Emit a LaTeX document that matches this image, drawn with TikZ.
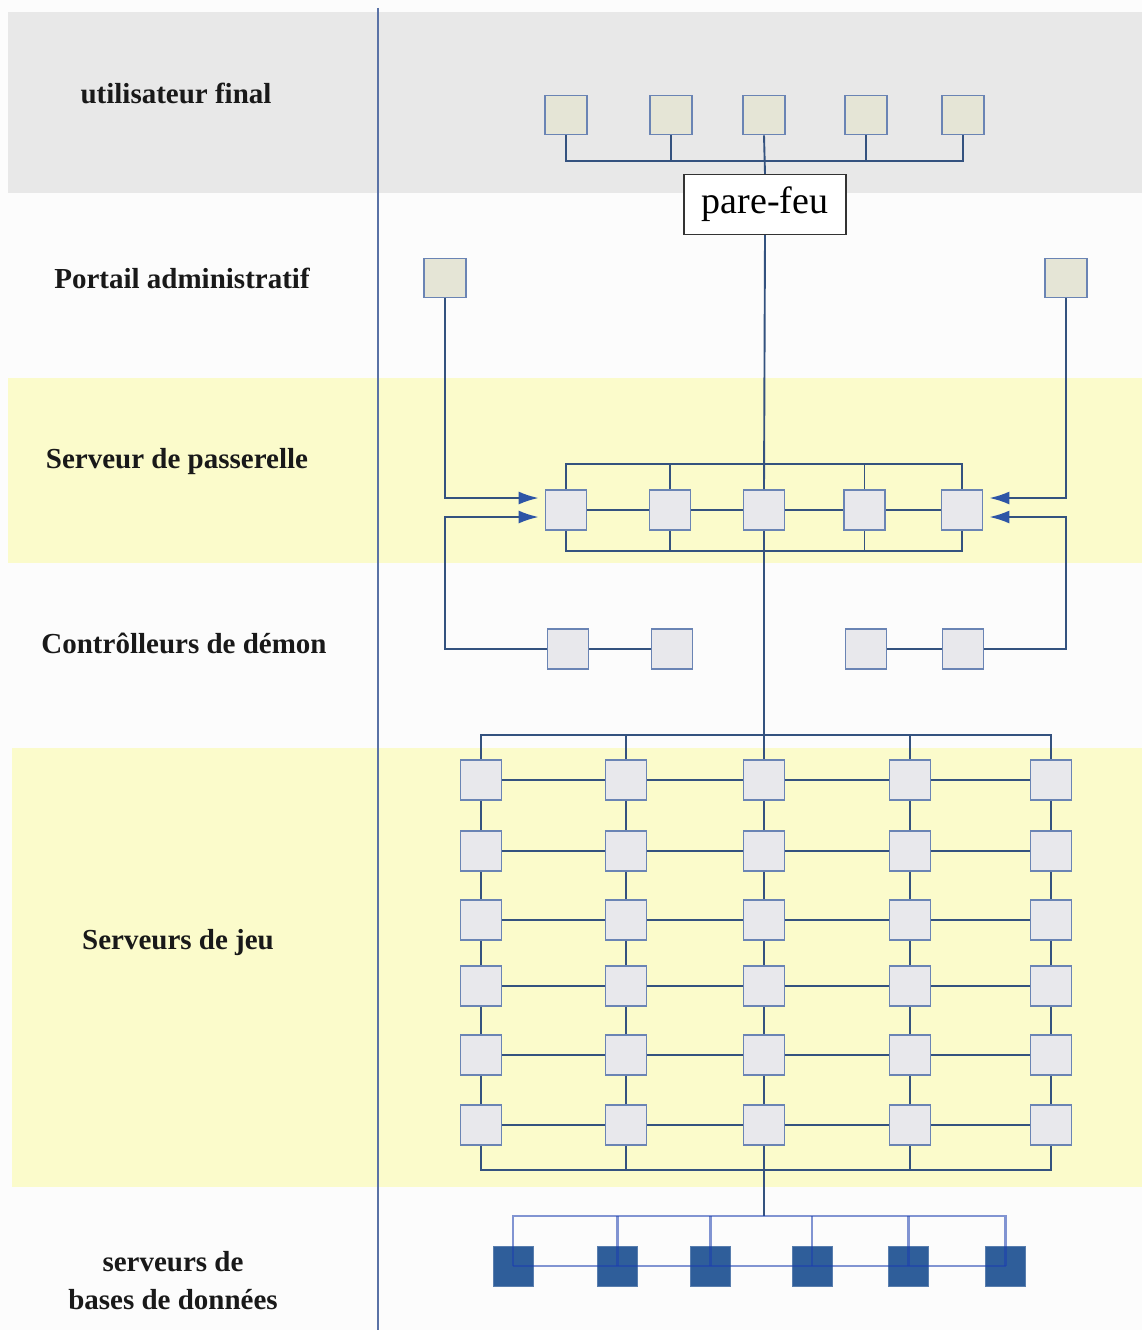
\documentclass[tikz,border=0pt]{standalone}
\usepackage{fontspec}
\setmainfont{Liberation Serif}
\usetikzlibrary{arrows.meta,calc}
\definecolor{bandgray}{HTML}{E8E8E8}
\definecolor{bandyellow}{HTML}{FBFBCB}
\definecolor{wirecol}{HTML}{34527F}
\definecolor{boxedge}{HTML}{6A84B4}
\definecolor{userfill}{HTML}{E5E5D6}
\definecolor{srvfill}{HTML}{E8E8EC}
\definecolor{dbfill}{HTML}{2F5E9A}
\definecolor{arrowblue}{HTML}{2D55A6}
\definecolor{sepcol}{HTML}{5A72A6}
\definecolor{dbline}{HTML}{1C3FB0}
\begin{document}
\begin{tikzpicture}[x=1pt,y=-1pt,
  box/.style={draw=boxedge,line width=1.8pt,minimum width=41pt,minimum height=40pt,inner sep=0pt},
  userbox/.style={box,fill=userfill,minimum width=42pt,minimum height=39pt},
  srvbox/.style={box,fill=srvfill},
  dbbox/.style={draw=dbfill!80!white,fill=dbfill,line width=1pt,minimum width=40pt,minimum height=40pt,inner sep=0pt},
  wire/.style={draw=wirecol,line width=1.9pt},
  dbwire/.style={draw=dbline,line width=2.2pt,draw opacity=0.55},
  feed/.style={wire,-{Latex[length=20pt,width=13pt,color=arrowblue]}},
  layer/.style={font=\bfseries\fontsize{29}{38}\selectfont,text=black!90,align=center},
  firewall/.style={draw=black!80,fill=white,line width=1.4pt,minimum width=162pt,minimum height=60pt,font=\fontsize{38}{40}\selectfont}
]
\useasboundingbox (0,0) rectangle (1142,1330);
\fill[white!99!black] (0,0) rectangle (1142,1330);

% layer bands
\fill[bandgray] (8,12) rectangle (1142,193);
\fill[bandyellow] (8,378) rectangle (1142,563);
\fill[bandyellow] (12,748) rectangle (1142,1187);
\draw[sepcol,line width=1.6pt] (378,8) -- (378,1330);

% layer labels
\node[layer] (l1) at (176,93) {utilisateur final};
\node[layer] (l2) at (182,278) {Portail administratif};
\node[layer] (l3) at (177,462) {Serveur de passerelle};
\node[layer] (l4) at (184,643) {Contrôlleurs de démon};
\node[layer] (l5) at (178,943) {Serveurs de jeu};
\node[layer] (l6) at (173,1281) {serveurs de\\bases de données};

% end users and firewall
\foreach \i/\x in {1/566,2/671,3/764,4/866,5/963}
  \node[userbox] (u\i) at (\x,115) {};
\node[firewall] (fw) at (765,204.5) {pare-feu};
\coordinate (ubus) at (764,161);
\draw[wire] (u1.south) -- (u1.south |- ubus) -- (u5.south |- ubus) -- (u5.south);
\foreach \i in {2,4} \draw[wire] (u\i.south) -- (u\i.south |- ubus);
\draw[wire] (u3.south) -- (fw.north);

% admin portals
\node[userbox] (a1) at (445,278) {};
\node[userbox] (a2) at (1066,278) {};

% gateway servers
\foreach \i/\x in {1/566,2/670,3/764,4/864.5,5/962}
  \node[srvbox] (p\i) at (\x,510) {};
\foreach \i/\j in {1/2,2/3,3/4,4/5}
  \draw[wire] (p\i) -- (p\j);
\coordinate (ptop) at (764,464);
\coordinate (pbot) at (764,551);
\draw[wire] (p1.north) -- (p1.north |- ptop) -- (p5.north |- ptop) -- (p5.north);
\draw[wire] (p1.south) -- (p1.south |- pbot) -- (p5.south |- pbot) -- (p5.south);
\foreach \i in {2,4} {
  \draw[wire] (p\i.north) -- (p\i.north |- ptop);
  \draw[wire] (p\i.south) -- (p\i.south |- pbot);
}
\draw[wire] (fw.south) -- (p3.north);

% daemon controllers
\node[srvbox] (d1) at (568,649) {};
\node[srvbox] (d2) at (672,649) {};
\node[srvbox] (d3) at (866,649) {};
\node[srvbox] (d4) at (963,649) {};
\draw[wire] (d1) -- (d2);
\draw[wire] (d3) -- (d4);

% feeds into the gateway row
\draw[feed] (a1.south) |- ($(p1.west)+(-6,-12)$);
\draw[feed] (d1.west) -| ($(a1.south |- p1.west)+(0,7)$) -- ($(p1.west)+(-6,7)$);
\draw[feed] (a2.south) |- ($(p5.east)+(6,-12)$);
\draw[feed] (d4.east) -| ($(a2.south |- p5.east)+(0,7)$) -- ($(p5.east)+(6,7)$);

% game server grid
\foreach \c/\x in {1/481,2/626,3/764,4/910,5/1051}
  \foreach \r/\y in {1/780,2/851,3/920,4/986,5/1055,6/1125}
    \node[srvbox] (g\r\c) at (\x,\y) {};
\foreach \r in {1,2,3,4,5,6}
  \foreach \c/\cc in {1/2,2/3,3/4,4/5}
    \draw[wire] (g\r\c) -- (g\r\cc);
\foreach \c in {1,2,3,4,5}
  \foreach \r/\rr in {1/2,2/3,3/4,4/5,5/6}
    \draw[wire] (g\r\c) -- (g\rr\c);
\coordinate (gtop) at (764,735);
\coordinate (gbot) at (764,1170);
\draw[wire] (g11.north) -- (g11.north |- gtop) -- (g15.north |- gtop) -- (g15.north);
\draw[wire] (g61.south) -- (g61.south |- gbot) -- (g65.south |- gbot) -- (g65.south);
\foreach \c in {2,4} {
  \draw[wire] (g1\c.north) -- (g1\c.north |- gtop);
  \draw[wire] (g6\c.south) -- (g6\c.south |- gbot);
}
\draw[wire] (p3.south) -- (g13.north);

% database servers
\foreach \i/\x in {1/513,2/617.5,3/710.5,4/812,5/908.5,6/1005.5}
  \node[dbbox] (db\i) at (\x,1266) {};
\coordinate (dbbus) at (764,1216);
\draw[wire] (g63.south) -- (g63.south |- dbbus);
\draw[dbwire] (db1.center) -- (db1.center |- dbbus) -- (db6.center |- dbbus) -- (db6.center);
\foreach \i in {2,...,5} \draw[dbwire] (db\i.center) -- (db\i.center |- dbbus);
\draw[dbwire] (db1.center) -- (db6.center);
\end{tikzpicture}
\end{document}
